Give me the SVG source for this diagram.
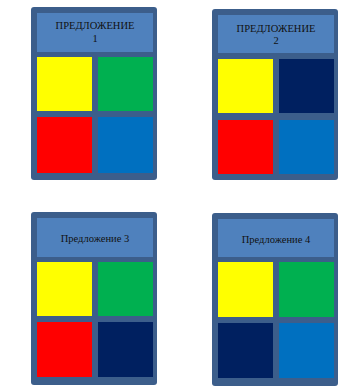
<svg xmlns="http://www.w3.org/2000/svg" width="346" height="389" viewBox="0 0 346 389">
<style>
.card{fill:#3C5E8B;}
.title{fill:#4F81BD;}
.t{font-family:"Liberation Serif","Times New Roman",serif;font-size:10.5px;fill:#111;text-anchor:middle;}
.y{fill:#FFFF00}.g{fill:#00B050}.r{fill:#FF0000}.b{fill:#0070C0}.n{fill:#002060}
</style>
<rect width="346" height="389" fill="#ffffff"/>
<g id="card1">
<rect class="card" x="31" y="7" width="126" height="173" rx="3"/>
<rect class="title" x="37" y="13" width="116" height="39"/>
<text class="t" x="95" y="29">ПРЕДЛОЖЕНИЕ</text>
<text class="t" x="95" y="42">1</text>
<rect class="y" x="37" y="57" width="55" height="54"/>
<rect class="g" x="98" y="57" width="55" height="54"/>
<rect class="r" x="37" y="117" width="55" height="56"/>
<rect class="b" x="98" y="117" width="55" height="56"/>
</g>
<g id="card2">
<rect class="card" x="212" y="9" width="126" height="171" rx="3"/>
<rect class="title" x="218" y="15" width="116" height="38"/>
<text class="t" x="276" y="32">ПРЕДЛОЖЕНИЕ</text>
<text class="t" x="276" y="44">2</text>
<rect class="y" x="218" y="59" width="55" height="54"/>
<rect class="n" x="279" y="59" width="55" height="54"/>
<rect class="r" x="218" y="120" width="55" height="54"/>
<rect class="b" x="279" y="120" width="55" height="54"/>
</g>
<g id="card3">
<rect class="card" x="31" y="212" width="126" height="173" rx="3"/>
<rect class="title" x="37" y="218" width="116" height="39"/>
<text class="t" x="95" y="242">Предложение 3</text>
<rect class="y" x="37" y="262" width="55" height="54"/>
<rect class="g" x="98" y="262" width="55" height="54"/>
<rect class="r" x="37" y="322" width="55" height="55"/>
<rect class="n" x="98" y="322" width="55" height="55"/>
</g>
<g id="card4">
<rect class="card" x="212" y="213" width="126" height="173" rx="3"/>
<rect class="title" x="218" y="219" width="116" height="38"/>
<text class="t" x="276" y="243">Предложение 4</text>
<rect class="y" x="218" y="262" width="55" height="55"/>
<rect class="g" x="279" y="262" width="55" height="55"/>
<rect class="n" x="218" y="323" width="55" height="55"/>
<rect class="b" x="279" y="323" width="55" height="55"/>
</g>
<g id="connectors"></g>
</svg>
